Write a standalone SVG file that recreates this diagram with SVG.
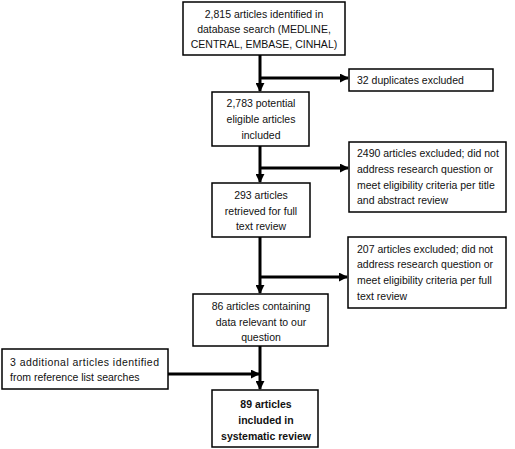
<svg xmlns="http://www.w3.org/2000/svg" width="515" height="449" viewBox="0 0 515 449">
<style>
.box{fill:#fff;stroke:#000;stroke-width:1.5}
text{font-family:"Liberation Sans",Arial,sans-serif;font-size:10.5px;fill:#111}
.c{text-anchor:middle}
.b{font-weight:bold;font-size:10.5px}
.ln{stroke:#000;stroke-width:3;fill:none}
</style>
<defs>
<marker id="ah" viewBox="0 0 10 10" refX="9" refY="5" markerWidth="3" markerHeight="3" orient="auto" markerUnits="strokeWidth">
<path d="M0,0 L10,5 L0,10 Z" fill="#000"/>
</marker>
</defs>
<rect width="515" height="449" fill="#fff"/>
<g id="connectors">
<line class="ln" x1="260" y1="55" x2="260" y2="91" marker-end="url(#ah)"/>
<line class="ln" x1="260" y1="146" x2="260" y2="182" marker-end="url(#ah)"/>
<line class="ln" x1="260" y1="237" x2="260" y2="293" marker-end="url(#ah)"/>
<line class="ln" x1="260" y1="346" x2="260" y2="389" marker-end="url(#ah)"/>
<line class="ln" x1="260" y1="78" x2="348" y2="78" marker-end="url(#ah)"/>
<line class="ln" x1="260" y1="168" x2="348" y2="168" marker-end="url(#ah)"/>
<line class="ln" x1="260" y1="277" x2="347" y2="277" marker-end="url(#ah)"/>
<line class="ln" x1="168" y1="374" x2="259" y2="374" marker-end="url(#ah)"/>
</g>
<g id="n1"><rect class="box" x="183" y="2" width="162" height="53"/>
<text class="c" x="264" y="18">2,815 articles identified in</text>
<text class="c" x="264" y="33">database search (MEDLINE,</text>
<text class="c" x="264" y="48">CENTRAL, EMBASE, CINHAL)</text></g>
<g id="n2"><rect class="box" x="349" y="69" width="144" height="22"/>
<text x="357" y="84">32 duplicates excluded</text></g>
<g id="n3"><rect class="box" x="212" y="92" width="97" height="54"/>
<text class="c" x="261" y="107">2,783 potential</text>
<text class="c" x="261" y="123">eligible articles</text>
<text class="c" x="261" y="139">included</text></g>
<g id="n4"><rect class="box" x="349" y="142" width="157" height="70"/>
<text x="357" y="157">2490 articles excluded; did not</text>
<text x="357" y="173">address research question or</text>
<text x="357" y="189">meet eligibility criteria per title</text>
<text x="357" y="204">and abstract review</text></g>
<g id="n5"><rect class="box" x="212" y="183" width="98" height="54"/>
<text class="c" x="261" y="199">293 articles</text>
<text class="c" x="261" y="215">retrieved for full</text>
<text class="c" x="261" y="230">text review</text></g>
<g id="n6"><rect class="box" x="348" y="237" width="158" height="71"/>
<text x="357" y="253">207 articles excluded; did not</text>
<text x="357" y="268">address research question or</text>
<text x="357" y="284">meet eligibility criteria per full</text>
<text x="357" y="300">text review</text></g>
<g id="n7"><rect class="box" x="193" y="294" width="135" height="52"/>
<text class="c" x="261" y="310">86 articles containing</text>
<text class="c" x="261" y="326">data relevant to our</text>
<text class="c" x="261" y="341">question</text></g>
<g id="n8"><rect class="box" x="2" y="349" width="166" height="40"/>
<text x="10" y="366" textLength="149" lengthAdjust="spacing">3 additional articles identified</text>
<text x="10" y="381">from reference list searches</text></g>
<g id="n9"><rect class="box" x="212" y="390" width="106" height="57"/>
<text class="c b" x="266" y="408">89 articles</text>
<text class="c b" x="266" y="424">included in</text>
<text class="c b" x="266" y="440">systematic review</text></g>
</svg>
